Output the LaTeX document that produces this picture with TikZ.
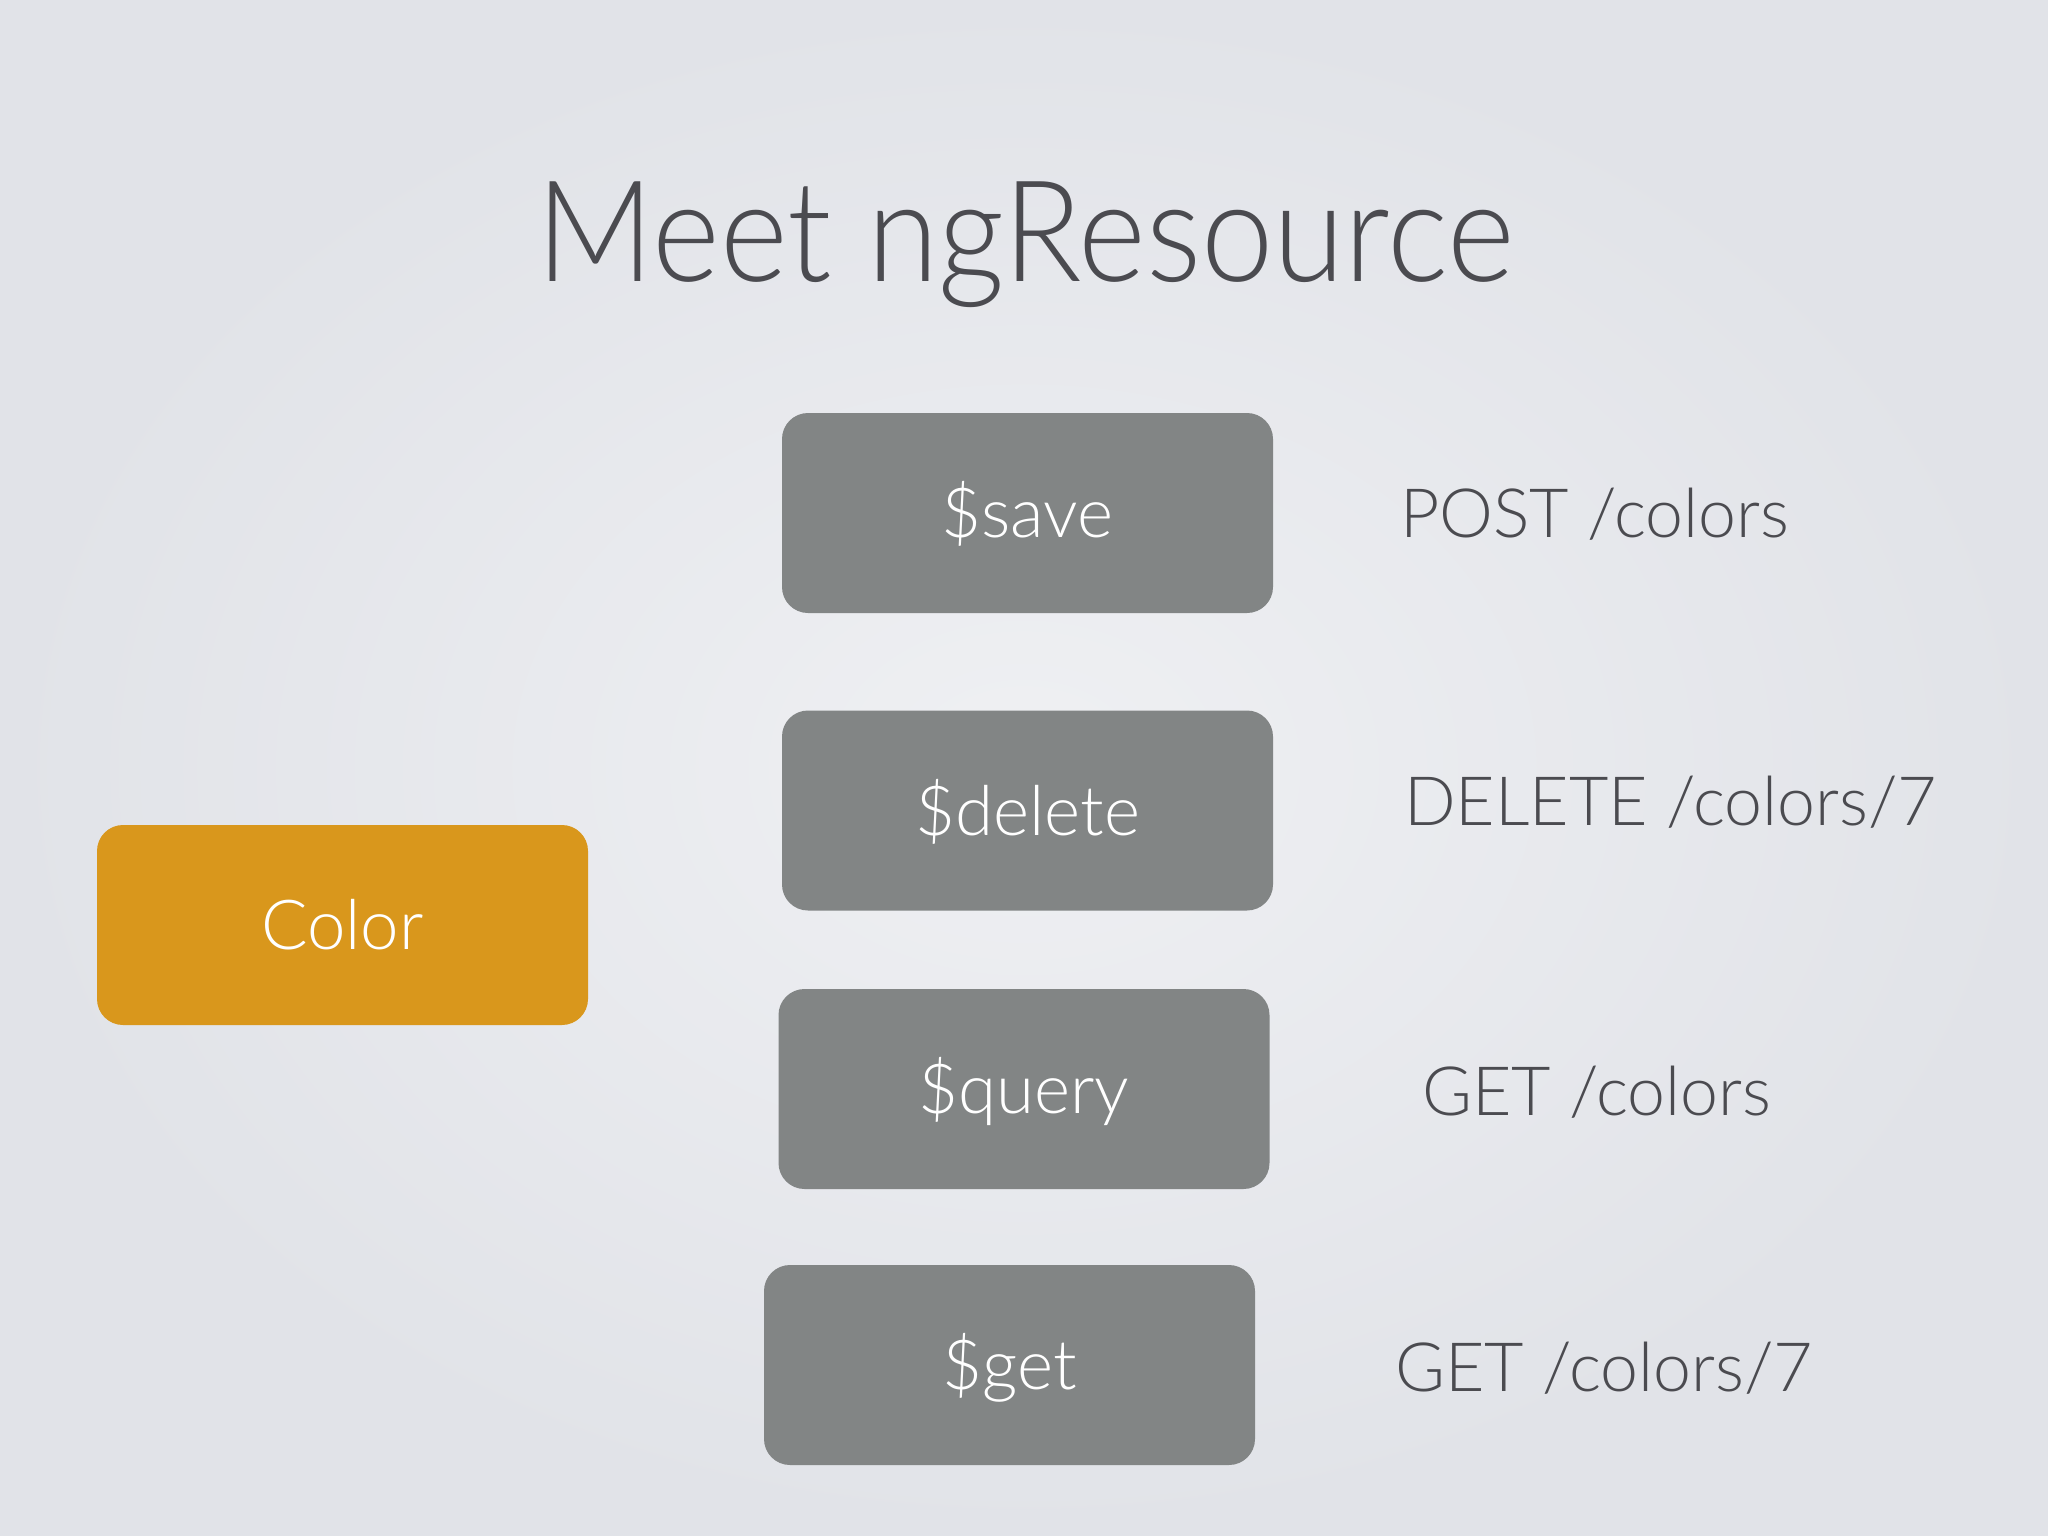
\documentclass[tikz,border=0pt]{standalone}
\usepackage{fontspec}
\setmainfont{Lato Light}
\newfontfamily\titlefont{Lato Light}[FakeStretch=0.92]
\definecolor{bgmid}{HTML}{EFF0F3}
\definecolor{bgedge}{HTML}{E1E3E8}
\definecolor{boxgray}{HTML}{828585}
\definecolor{boxorange}{HTML}{D9971C}
\definecolor{txtgray}{HTML}{4B4B50}
\tikzset{
  method/.style={rectangle, rounded corners=26pt, fill=boxgray, minimum width=491pt, minimum height=200pt,
    inner sep=0pt, text=white, font=\fontsize{69}{80}\selectfont, text height=49pt, text depth=0pt},
  model/.style={method, fill=boxorange},
  http/.style={anchor=base west, inner sep=0pt, text=txtgray, font=\fontsize{68}{80}\selectfont},
  title/.style={anchor=base, inner sep=0pt, text=txtgray, font=\titlefont\fontsize{141}{160}\selectfont}
}
\begin{document}
\begin{tikzpicture}[x=1pt,y=-1pt]
\useasboundingbox (0,0) rectangle (2048,1536);
\shade[inner color=bgmid, outer color=bgedge] (0,0) rectangle (2048,1536);
\node[title] (t) at (1025.5,281) {Meet ngResource};
\node[method] (save) at (1027.5,513) {\$save};
\node[method] (delete) at (1027.5,810.5) {\$delete};
\node[method] (query) at (1024,1089) {\$query};
\node[method] (get) at (1009.5,1365) {\$get};
\node[model] (color) at (342.5,925) {Color};
\node[http] (l1) at (1400,537) {POST /colors};
\node[http] (l2) at (1404,825) {DELETE /colors/7};
\node[http] (l3) at (1422,1115) {GET /colors};
\node[http] (l4) at (1395,1391) {GET /colors/7};
\end{tikzpicture}
\end{document}
